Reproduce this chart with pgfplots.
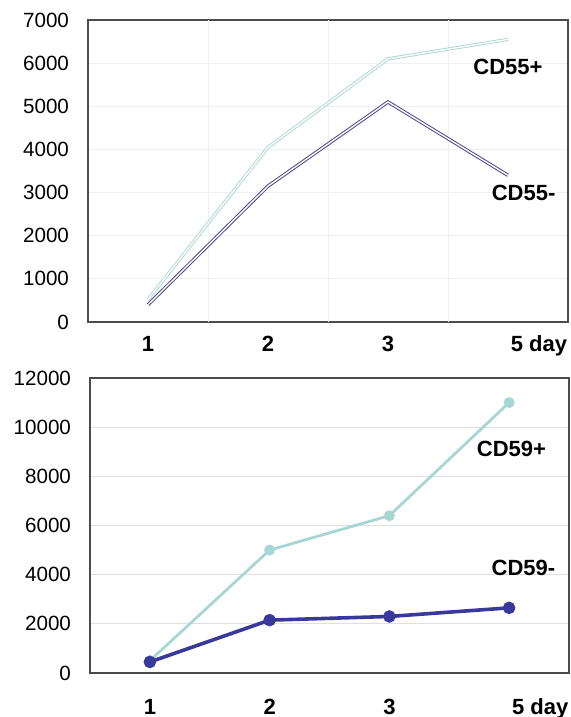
\documentclass[border=0pt]{standalone}
\usepackage{pgfplots}
\pgfplotsset{compat=1.18}
\usepackage{fontspec}
\setmainfont{Liberation Sans}

\definecolor{lightteal}{HTML}{A8D6D4}
\definecolor{darkpurple}{HTML}{4A4A90}
\definecolor{deepblue}{HTML}{3A389A}

\pgfplotsset{
  dayaxis/.style={
    scale only axis,
    anchor=south west,
    xmin=0, xmax=4,
    xtick={0.5,1.5,2.5,3.5},
    xticklabels={1,2,3,{\hspace*{9pt}5\rlap{ day}}},
    major tick length=0pt,
    tick style={draw=none},
    axis line style={black!70, line width=0.6pt},
    ticklabel style={font=\fontsize{10.3}{12}\selectfont},
    xticklabel style={font=\fontsize{11}{13}\selectfont\bfseries, yshift=-3pt,
      text height=1.6ex, text depth=0.3ex},
    yticklabel style={xshift=-6pt},
    /pgf/number format/assume math mode=true,
    /pgf/number format/1000 sep={},
    scaled y ticks=false,
    clip=false,
  },
}

\begin{document}
\begin{tikzpicture}
\useasboundingbox (0,0) rectangle (285.5pt,358.5pt);

% top chart: CD55
\begin{axis}[dayaxis,
  at={(44pt,197.5pt)}, width=240pt, height=151pt,
  ymin=0, ymax=7000, ytick={0,1000,...,7000},
  extra x ticks={1,2,3}, extra x tick labels={},
  extra x tick style={grid=major, major tick length=0pt, tick style={draw=none}},
  ymajorgrids, major grid style={draw=gray!12, line width=0.4pt},
]
\addplot[draw=lightteal, line width=0.45pt, double=white, double distance=0.7pt]
  coordinates {(0.5,520) (1.5,4050) (2.5,6100) (3.5,6550)};
\addplot[draw=darkpurple, line width=0.5pt, double=white, double distance=0.7pt]
  coordinates {(0.5,400) (1.5,3150) (2.5,5100) (3.5,3400)};
\node[font=\fontsize{11}{13}\selectfont\bfseries] at (axis cs:3.50,5910) {CD55+};
\node[font=\fontsize{11}{13}\selectfont\bfseries] at (axis cs:3.63,2990) {CD55-};
\end{axis}

% bottom chart: CD59
\begin{axis}[dayaxis,
  at={(45pt,22pt)}, width=239.5pt, height=147.5pt,
  ymin=0, ymax=12000, ytick={0,2000,...,12000},
  xticklabel style={yshift=-6pt},
  ymajorgrids, major grid style={draw=gray!25, line width=0.4pt},
]
\addplot[color=lightteal, line width=1.4pt, mark=*, mark size=2pt]
  coordinates {(0.5,500) (1.5,5000) (2.5,6400) (3.5,11000)};
\addplot[color=deepblue, line width=1.8pt, mark=*, mark size=2.2pt]
  coordinates {(0.5,450) (1.5,2150) (2.5,2300) (3.5,2650)};
\node[font=\fontsize{11}{13}\selectfont\bfseries] at (axis cs:3.52,9100) {CD59+};
\node[font=\fontsize{11}{13}\selectfont\bfseries] at (axis cs:3.62,4270) {CD59-};
\end{axis}
\end{tikzpicture}
\end{document}
